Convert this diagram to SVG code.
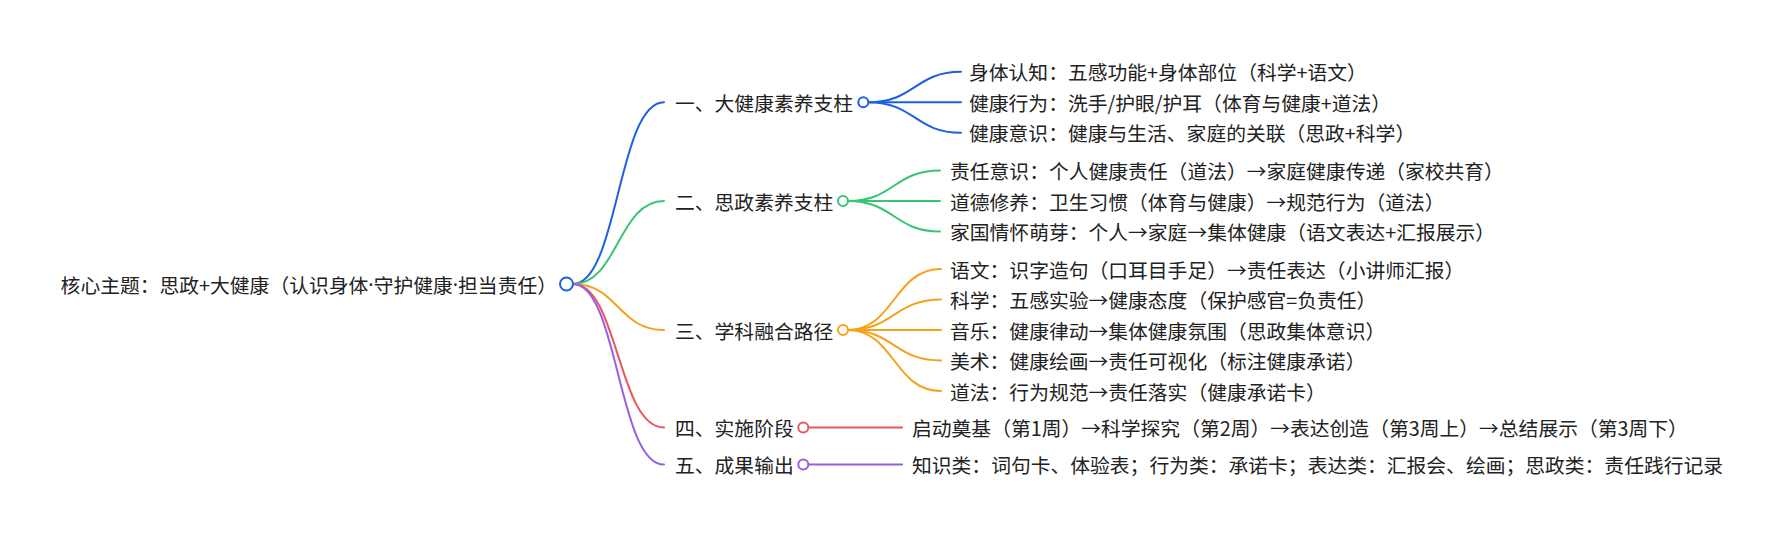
<svg xmlns="http://www.w3.org/2000/svg" width="1778" height="536" viewBox="0 0 1778 536">
<style>
text{font-family:"Noto Sans CJK SC","Noto Sans",sans-serif;font-size:19.8px;fill:#222;dominant-baseline:central}
.dot{font-family:"Noto Sans","DejaVu Sans",sans-serif}
.l{fill:none;stroke-width:2;stroke-linecap:round}
.c{fill:#fff;stroke-width:2}
.b{stroke:#1f5fe3}.g{stroke:#38c473}.o{stroke:#f5a11c}.r{stroke:#e8585b}.p{stroke:#9b5ce3}
</style>
<rect width="1778" height="536" fill="#fff"/>
<g id="connectors">
<path class="l b" d="M573,284 C618,284 618,102.3 664,102.3"/>
<path class="l g" d="M573,284 C618,284 618,201 664,201"/>
<path class="l o" d="M573,284 C618,284 618,330 664,330"/>
<path class="l r" d="M573,284 C618,284 618,427.5 664,427.5"/>
<path class="l p" d="M573,284 C618,284 618,464.5 664,464.5"/>
<path class="l b" d="M868,102.3 C915,102.3 915,71.8 961,71.8"/>
<path class="l b" d="M868,102.3 L961,102.3"/>
<path class="l b" d="M868,102.3 C915,102.3 915,132.8 961,132.8"/>
<path class="l g" d="M848,201 C894,201 894,170.5 940,170.5"/>
<path class="l g" d="M848,201 L940,201"/>
<path class="l g" d="M848,201 C894,201 894,231.5 940,231.5"/>
<path class="l o" d="M848,330 C894,330 894,269 941,269"/>
<path class="l o" d="M848,330 C894,330 894,299.5 941,299.5"/>
<path class="l o" d="M848,330 L941,330"/>
<path class="l o" d="M848,330 C894,330 894,360.5 941,360.5"/>
<path class="l o" d="M848,330 C894,330 894,391 941,391"/>
<path class="l r" d="M809,427.5 L902,427.5"/>
<path class="l p" d="M809,464.5 L902,464.5"/>
</g>
<g id="root">
<text x="557" y="284" text-anchor="end">核心主题：思政+大健康（认识身体<tspan class="dot">·</tspan>守护健康<tspan class="dot">·</tspan>担当责任）</text>
<circle class="c b" cx="566.5" cy="284" r="6.5"/>
</g>
<g id="n1">
<text x="675" y="102.3">一、大健康素养支柱</text>
<circle class="c b" cx="863.3" cy="102.3" r="5"/>
</g>
<g id="n1a"><text x="969" y="71.8">身体认知：五感功能+身体部位（科学+语文）</text></g>
<g id="n1b"><text x="969" y="102.3">健康行为：洗手/护眼/护耳（体育与健康+道法）</text></g>
<g id="n1c"><text x="969" y="132.8">健康意识：健康与生活、家庭的关联（思政+科学）</text></g>
<g id="n2">
<text x="675" y="201">二、思政素养支柱</text>
<circle class="c g" cx="843" cy="201" r="5"/>
</g>
<g id="n2a"><text x="950" y="170.5">责任意识：个人健康责任（道法）→家庭健康传递（家校共育）</text></g>
<g id="n2b"><text x="950" y="201">道德修养：卫生习惯（体育与健康）→规范行为（道法）</text></g>
<g id="n2c"><text x="950" y="231.5">家国情怀萌芽：个人→家庭→集体健康（语文表达+汇报展示）</text></g>
<g id="n3">
<text x="675" y="330">三、学科融合路径</text>
<circle class="c o" cx="843" cy="330" r="5"/>
</g>
<g id="n3a"><text x="950" y="269">语文：识字造句（口耳目手足）→责任表达（小讲师汇报）</text></g>
<g id="n3b"><text x="950" y="299.5">科学：五感实验→健康态度（保护感官=负责任）</text></g>
<g id="n3c"><text x="950" y="330">音乐：健康律动→集体健康氛围（思政集体意识）</text></g>
<g id="n3d"><text x="950" y="360.5">美术：健康绘画→责任可视化（标注健康承诺）</text></g>
<g id="n3e"><text x="950" y="391">道法：行为规范→责任落实（健康承诺卡）</text></g>
<g id="n4">
<text x="675" y="427.5">四、实施阶段</text>
<circle class="c r" cx="803.3" cy="427.5" r="5"/>
</g>
<g id="n4a"><text x="912" y="427.5">启动奠基（第1周）→科学探究（第2周）→表达创造（第3周上）→总结展示（第3周下）</text></g>
<g id="n5">
<text x="675" y="464.5">五、成果输出</text>
<circle class="c p" cx="803.3" cy="464.5" r="5"/>
</g>
<g id="n5a"><text x="912" y="464.5">知识类：词句卡、体验表；行为类：承诺卡；表达类：汇报会、绘画；思政类：责任践行记录</text></g>
</svg>
